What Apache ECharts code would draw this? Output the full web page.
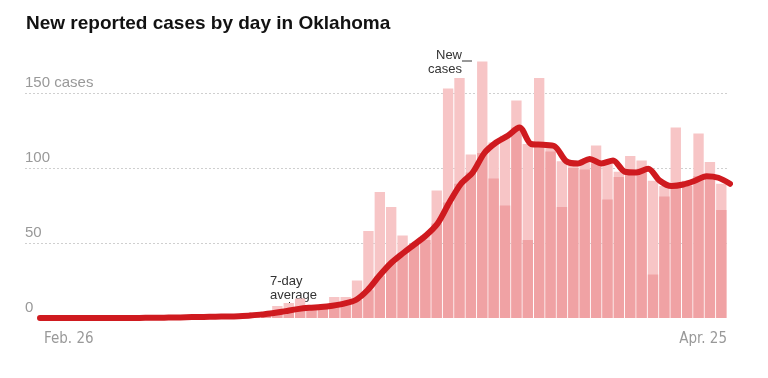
<!DOCTYPE html>
<html><head><meta charset="utf-8">
<script src="https://cdn.jsdelivr.net/npm/echarts@6/dist/echarts.min.js"></script>
<style>html,body{margin:0;padding:0;background:#fff}#c{width:768px;height:378px}</style>
</head><body><div id="c"></div>
<script>
const chartTitle = 'New reported cases by day in Oklahoma';
const days = ['Feb. 26','Feb. 27','Feb. 28','Feb. 29',
  'Mar. 1','Mar. 2','Mar. 3','Mar. 4','Mar. 5','Mar. 6','Mar. 7','Mar. 8','Mar. 9','Mar. 10',
  'Mar. 11','Mar. 12','Mar. 13','Mar. 14','Mar. 15','Mar. 16','Mar. 17','Mar. 18','Mar. 19','Mar. 20',
  'Mar. 21','Mar. 22','Mar. 23','Mar. 24','Mar. 25','Mar. 26','Mar. 27','Mar. 28','Mar. 29','Mar. 30','Mar. 31',
  'Apr. 1','Apr. 2','Apr. 3','Apr. 4','Apr. 5','Apr. 6','Apr. 7','Apr. 8','Apr. 9','Apr. 10',
  'Apr. 11','Apr. 12','Apr. 13','Apr. 14','Apr. 15','Apr. 16','Apr. 17','Apr. 18','Apr. 19','Apr. 20',
  'Apr. 21','Apr. 22','Apr. 23','Apr. 24','Apr. 25'];
const cases = [0,0,0,0,0,0,0,0,0,1,
  0,0,1,1,1,1,2,2,4,2,
  8,10,13,6,7,14,14,25,58,84,
  74,55,49,52,85,153,160,109,171,93,
  75,145,52,160,111,74,100,99,115,79,
  94,108,105,29,81,127,88,123,104,72];
const avg7 = [0,0,0,0,0,0,0,0,0,0.1,
  0.1,0.3,0.4,0.6,0.7,0.9,1.0,1.2,1.6,2.4,
  3.3,4.6,5.9,6.8,7.3,8.2,9.6,12,18.5,28,
  36.5,43,49,55,63,77,89.5,97,110,117,
  121.5,127,116,115.5,114.5,104.5,103,106,103,105,
  97.5,97,99.5,91.5,88,89,91.5,94.5,93.5,89.5];
const yTicks = [0, 50, 100, 150];
const yUnit = 'cases';
const xTickLabels = ['Feb. 26', 'Apr. 25'];
const noteCases = ['New', 'cases'];
const noteAvg = ['7-day', 'average'];

const chart = echarts.init(document.getElementById('c'), null, {renderer: 'canvas'});
const lightVals = cases.map((v, i) => Math.max(v, avg7[i]));
const darkVals = cases.map((v, i) => Math.min(v, avg7[i]));
const TOP = 18, BOTTOM = 60, YMAX = 200;
const FONT = "'Liberation Sans', Arial, sans-serif";
const NARROW = "'Liberation Sans Narrow', 'DejaVu Sans Condensed', 'Roboto', sans-serif";
const yAxisBase = {type: 'value', min: 0, max: YMAX, interval: 50};

chart.setOption({
  animation: false,
  title: {text: chartTitle, left: 21, top: 9,
    textStyle: {fontFamily: FONT, fontWeight: 'bold', fontSize: 19, color: '#121212'}},
  grid: [
    {left: 25, right: 41, top: TOP, bottom: BOTTOM},
    {left: 44, right: 41, top: TOP, bottom: BOTTOM},
    {left: 40, right: 38, top: TOP, bottom: BOTTOM}
  ],
  xAxis: [
    {gridIndex: 0, type: 'category', data: days, show: false},
    {gridIndex: 1, type: 'category', data: days, boundaryGap: true, show: false},
    {gridIndex: 1, type: 'category', data: days, boundaryGap: false, position: 'bottom',
      axisLine: {show: false}, axisTick: {show: false}, splitLine: {show: false},
      axisLabel: {interval: 0, formatter: v => xTickLabels.includes(v) ? v : '',
        alignMinLabel: 'left', alignMaxLabel: 'right', margin: 14,
        color: '#999', fontSize: 15, fontFamily: NARROW}},
    {gridIndex: 2, type: 'category', data: days, boundaryGap: false, show: false}
  ],
  yAxis: [
    Object.assign({gridIndex: 0}, yAxisBase, {
      axisLine: {show: false}, axisTick: {show: false},
      splitLine: {show: true, showMinLine: false, showMaxLine: false,
        lineStyle: {type: [2, 2], color: '#cfcfcf', width: 1}},
      axisLabel: {inside: true, margin: 0, align: 'left', verticalAlign: 'bottom',
        padding: [0, 0, 3, 0], showMaxLabel: false, color: '#999', fontSize: 15, fontFamily: FONT,
        formatter: v => yTicks.includes(v) ? (v === yTicks[yTicks.length - 1] ? v + ' ' + yUnit : String(v)) : ''}
    }),
    Object.assign({gridIndex: 1, show: false}, yAxisBase),
    Object.assign({gridIndex: 2, show: false}, yAxisBase)
  ],
  series: [
    {type: 'bar', name: 'light', xAxisIndex: 1, yAxisIndex: 1, data: lightVals,
      barWidth: '91%', barGap: '-100%', itemStyle: {color: '#f7c5c6'}, silent: true},
    {type: 'bar', name: 'dark', xAxisIndex: 1, yAxisIndex: 1, data: darkVals,
      barWidth: '91%', barGap: '-100%', itemStyle: {color: '#f0a2a4'}, silent: true},
    {type: 'line', name: '7-day average', xAxisIndex: 3, yAxisIndex: 2, data: avg7,
      smooth: 0.3, symbol: 'none', z: 5,
      lineStyle: {width: 6, color: '#cf1a1f', cap: 'round', join: 'round'}}
  ],
  graphic: [
    {type: 'text', style: {x: 462, y: 55, text: noteCases[0], align: 'right', verticalAlign: 'middle',
      font: "13px 'Liberation Sans', Arial", fill: '#333'}},
    {type: 'text', style: {x: 462, y: 69, text: noteCases[1], align: 'right', verticalAlign: 'middle',
      font: "13px 'Liberation Sans', Arial", fill: '#333'}},
    {type: 'line', shape: {x1: 462, y1: 61, x2: 472, y2: 61}, style: {stroke: '#333', lineWidth: 1}},
    {type: 'text', style: {x: 270, y: 281, text: noteAvg[0], align: 'left', verticalAlign: 'middle',
      font: "13px 'Liberation Sans', Arial", fill: '#333'}},
    {type: 'text', style: {x: 270, y: 295, text: noteAvg[1], align: 'left', verticalAlign: 'middle',
      font: "13px 'Liberation Sans', Arial", fill: '#333'}},
    {type: 'line', shape: {x1: 289.5, y1: 302, x2: 289.5, y2: 312}, style: {stroke: '#333', lineWidth: 1}}
  ]
});
</script></body></html>
